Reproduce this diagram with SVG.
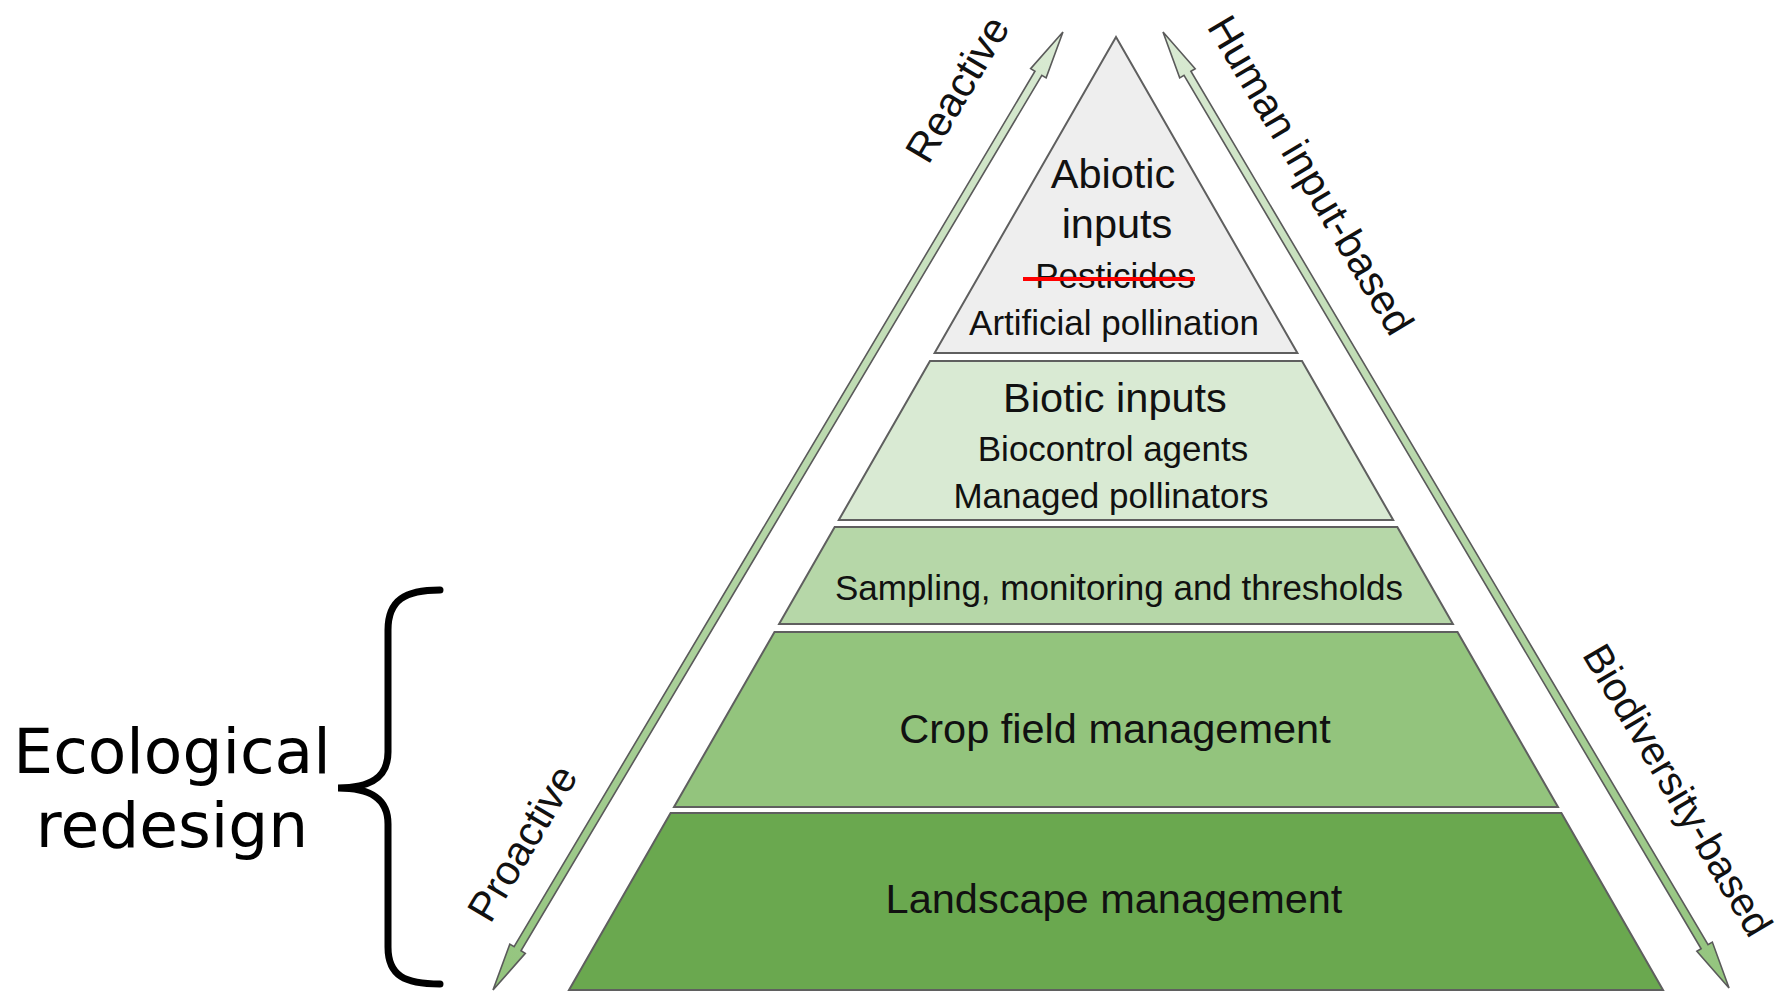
<svg xmlns="http://www.w3.org/2000/svg" width="1786" height="992" viewBox="0 0 1786 992">
<style>
.layer{stroke:#5f5f5f;stroke-width:2;stroke-linejoin:miter}
.t{font-family:"Liberation Sans",Arial,sans-serif;fill:#111;text-anchor:middle}
.big{font-size:41.5px}
.sm{font-size:35px}
.side{font-family:"Liberation Sans",Arial,sans-serif;font-size:41.5px;fill:#111;text-anchor:middle}
.arrow{stroke:#5a5a5a;stroke-width:1.6;stroke-linejoin:miter}
.eco{font-family:"DejaVu Sans",Verdana,sans-serif;font-size:63px;fill:#000;text-anchor:middle}
</style>
<defs>
<linearGradient id="gL" gradientUnits="userSpaceOnUse" x1="0" y1="0" x2="1114.7" y2="0">
<stop offset="0" stop-color="#93c47d"/><stop offset="1" stop-color="#d9ead3"/>
</linearGradient>
<linearGradient id="gR" gradientUnits="userSpaceOnUse" x1="0" y1="0" x2="1111" y2="0">
<stop offset="0" stop-color="#d9ead3"/><stop offset="1" stop-color="#93c47d"/>
</linearGradient>
</defs>
<rect width="1786" height="992" fill="#fff"/>

<g id="abiotic">
<polygon class="layer" fill="#eeeeee" points="1116,37 1297.4,353 934.6,353"/>
<text class="t big" x="1113" y="188">Abiotic</text>
<text class="t big" x="1117" y="238">inputs</text>
<text class="t sm" x="1115" y="288">Pesticides</text>
<line x1="1023" y1="279" x2="1195" y2="279" stroke="#ff0000" stroke-width="4"/>
<text class="t sm" x="1114" y="335">Artificial pollination</text>
</g>

<g id="biotic">
<polygon class="layer" fill="#d9ead3" points="930,361 1302,361 1393.2,520 838.8,520"/>
<text class="t big" x="1115" y="412">Biotic inputs</text>
<text class="t sm" x="1113" y="461">Biocontrol agents</text>
<text class="t sm" x="1111" y="508">Managed pollinators</text>
</g>

<g id="sampling">
<polygon class="layer" fill="#b6d7a8" points="834.7,527 1397.3,527 1452.9,624 779.1,624"/>
<text class="t sm" x="1119" y="600">Sampling, monitoring and thresholds</text>
</g>

<g id="crop">
<polygon class="layer" fill="#93c47d" points="774.5,632 1457.5,632 1558,807 674,807"/>
<text class="t big" x="1115" y="743">Crop field management</text>
</g>

<g id="landscape">
<polygon class="layer" fill="#6aa84f" points="670.6,813 1561.4,813 1663,990 569,990"/>
<text class="t big" x="1114" y="913">Landscape management</text>
</g>

<g id="connectors">
<path class="arrow" fill="url(#gL)" transform="translate(493,990) rotate(-59.25)" d="M0,0 L48,-9 L48,-4 L1066.7,-4 L1066.7,-9 L1114.7,0 L1066.7,9 L1066.7,4 L48,4 L48,9 Z"/>
<path class="arrow" fill="url(#gR)" transform="translate(1163,32) rotate(59.37)" d="M0,0 L48,-9 L48,-4 L1063,-4 L1063,-9 L1111,0 L1063,9 L1063,4 L48,4 L48,9 Z"/>
</g>

<g id="side-labels">
<text class="side" transform="translate(957,89) rotate(-59.25)" dy="0.35em">Reactive</text>
<text class="side" transform="translate(522,843) rotate(-59.25)" dy="0.35em">Proactive</text>
<text class="side" transform="translate(1311,175) rotate(59.37)" dy="0.35em">Human input-based</text>
<text class="side" transform="translate(1678,790) rotate(59.37)" dy="0.35em" style="font-size:40.5px">Biodiversity-based</text>
</g>

<g id="ecological-redesign">
<path d="M440,590 C405,590 388,600 388,630 L388,752 C388,778 370,788 338,788 C370,788 388,798 388,824 L388,947 C388,976 405,984 440,984" fill="none" stroke="#000" stroke-width="7" stroke-linecap="round"/>
<text class="eco" x="172" y="773">Ecological</text>
<text class="eco" x="172" y="847">redesign</text>
</g>
</svg>
